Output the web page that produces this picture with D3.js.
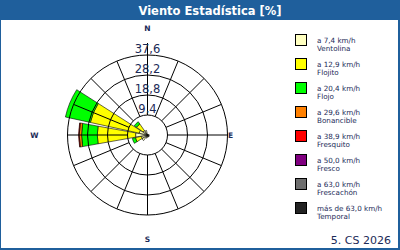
<!DOCTYPE html>
<html><head><meta charset="utf-8">
<script src="https://cdn.jsdelivr.net/npm/d3@7"></script>
<style>html,body{margin:0;padding:0;background:#fff;}svg{display:block;}</style>
</head><body>
<svg id="c" width="400" height="250"></svg>
<script>
const directions = ["N","NNE","NE","ENE","E","ESE","SE","SSE","S","SSW","SW","WSW","W","WNW","NW","NNW"];
const compassLabels = ["N","E","S","W"];
const speedLabels = ["a 7,4 km/h","a 12,9 km/h","a 20,4 km/h","a 29,6 km/h","a 38,9 km/h","a 50,0 km/h","a 63,0 km/h","más de 63,0 km/h"];
const speedNames = ["Ventolina","Flojito","Flojo","Bonancible","Fresquito","Fresco","Frescachón","Temporal"];
const speedColors = ["#ffffc0","#ffff00","#00ff00","#ff8000","#ff0000","#800080","#6e6e6e","#232323"];
const ringTicks = [9.4, 18.8, 28.2, 37.6];
// percentages per direction (N..NNW) for each speed class
const ventolina  = [0.3,0.3,0.3,0.3,0.8,0.8,1.0,0.9,1.0,1.5,3.2,3.0,5.6,4.0,2.5,2.2];
const flojito    = [0,0,0,0,0,0,0,0,0,0,0,2.8,18.0,23.5,3.8,0];
const flojo      = [0,0,0,0,0,0,0,0,0,0,0,1.5,7.4,12.0,1.3,0];
const bonancible = [0,0,0,0,0,0,0,0,0,0,0,0,1.1,0,0,0];
const fresquito  = [0,0,0,0,0,0,0,0,0,0,0,0,0.3,0,0,0];
const fresco     = [0,0,0,0,0,0,0,0,0,0,0,0,0,0,0,0];
const frescachon = [0,0,0,0,0,0,0,0,0,0,0,0,0,0,0,0];
const temporal   = [0,0,0,0,0,0,0,0,0,0,0,0,0,0,0,0];
const title = "Viento Estadística [%]";
const footer = "5. CS 2026";

const series = [ventolina, flojito, flojo, bonancible, fresquito, fresco, frescachon, temporal];
const svg = d3.select("#c");
const navy = "#1b2a57";
const cx = 147.5, cy = 135, R = 80, inner = 20;

// frame and title bar
svg.append("rect").attr("x",0).attr("y",0).attr("width",400).attr("height",250).attr("fill","#1f5f9c");
svg.append("rect").attr("x",1).attr("y",20).attr("width",397).attr("height",228).attr("fill","#fff");
svg.append("text").attr("x",210).attr("y",15).attr("text-anchor","middle")
  .attr("font-family","DejaVu Sans").attr("font-weight","bold").attr("font-size",11.5)
  .attr("fill","#fff").text(title);

const r = d3.scaleLinear().domain([0, d3.max(ringTicks)]).range([0, R]);
const angle = d3.scaleBand().domain(directions).range([0, 2*Math.PI]);
const step = angle.bandwidth();
const g = svg.append("g").attr("transform",`translate(${cx},${cy})`);

// stacked data
const stack = d3.stack().keys(d3.range(series.length))
  .value((d,k) => series[k][d])(d3.range(directions.length));
const arc = d3.arc();
const half = step*0.45;
stack.forEach((layer, k) => {
  g.append("g").selectAll("path")
    .data(layer.map((d,i)=>({d,i})).filter(o => o.d[1]-o.d[0] > 0))
    .join("path")
    .attr("d", o => {
      const a = angle(directions[o.i]);
      return arc({innerRadius:r(o.d[0]), outerRadius:r(o.d[1]), startAngle:a-half, endAngle:a+half});
    })
    .attr("fill", speedColors[k]).attr("stroke","#000").attr("stroke-width",0.6);
});

// grid
const grid = svg.append("g").attr("transform",`translate(${cx},${cy})`).attr("fill","none").attr("stroke","#000").attr("stroke-width",1);
grid.append("circle").attr("r",inner);
ringTicks.slice(1).forEach(t => grid.append("circle").attr("r", r(t)));
directions.forEach(dn => {
  const a = angle(dn);
  const ext = dn === "N" ? R + 12 : R;
  grid.append("line")
    .attr("x1", inner*Math.sin(a)).attr("y1", -inner*Math.cos(a))
    .attr("x2", ext*Math.sin(a)).attr("y2", -ext*Math.cos(a));
});

// ring labels
ringTicks.forEach(t => {
  svg.append("text").attr("x",cx).attr("y",cy - r(t) - 2.5).attr("text-anchor","middle")
    .attr("font-family","DejaVu Sans").attr("font-size",11.5).attr("fill",navy)
    .text(d3.format(".1f")(t).replace(".",","));
});

// compass labels
const compassPos = {N:[0,-(R+27)], E:[R+3,0], S:[0,R+24], W:[-(R+33),0]};
compassLabels.forEach(c => {
  svg.append("text").attr("x",cx+compassPos[c][0]).attr("y",cy+compassPos[c][1]+3)
    .attr("text-anchor","middle").attr("font-family","DejaVu Sans").attr("font-weight","bold")
    .attr("font-size",7.5).attr("fill",navy).text(c);
});

// legend
const leg = svg.append("g");
speedLabels.forEach((lab,i) => {
  const y = 34 + i*24;
  leg.append("rect").attr("x",295.5).attr("y",y+0.5).attr("width",11).attr("height",11)
    .attr("fill",speedColors[i]).attr("stroke","#000");
  leg.append("text").attr("x",317).attr("y",y+8.5).attr("font-family","DejaVu Sans").attr("font-size",7.2)
    .attr("fill",navy).text(lab);
  leg.append("text").attr("x",317).attr("y",y+17).attr("font-family","DejaVu Sans").attr("font-size",7.2)
    .attr("fill",navy).text(speedNames[i]);
});

svg.append("text").attr("x",391).attr("y",244).attr("text-anchor","end")
  .attr("font-family","DejaVu Sans").attr("font-size",11).attr("fill",navy).text(footer);
</script>
</body></html>
